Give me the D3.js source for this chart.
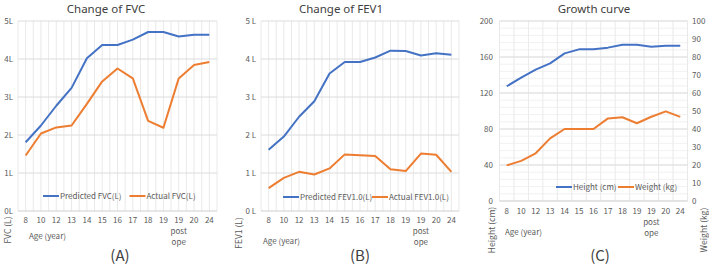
<!DOCTYPE html>
<html><head><meta charset="utf-8">
<script src="https://cdn.jsdelivr.net/npm/d3@7"></script>
<style>
body{margin:0;background:#fff;}
svg{display:block;}
text{font-family:"Noto Sans CJK JP","Noto Sans",sans-serif;}
text.title{font-family:"Noto Sans",sans-serif;}
</style></head>
<body>
<svg id="c" width="709" height="266"></svg>
<script>
const categories = ["8","10","12","13","14","15","16","17","18","19","19 post ope","20","24"];
const predictedFVC = [1.81,2.25,2.77,3.24,4.02,4.37,4.37,4.51,4.71,4.71,4.59,4.64,4.64];
const actualFVC    = [1.46,2.04,2.2,2.25,2.82,3.41,3.75,3.49,2.37,2.19,3.49,3.84,3.92];
const predictedFEV1 = [1.61,1.96,2.48,2.89,3.62,3.92,3.92,4.04,4.22,4.21,4.09,4.15,4.11];
const actualFEV1    = [0.6,0.87,1.03,0.96,1.12,1.49,1.47,1.45,1.1,1.05,1.51,1.48,1.03];
const heightCm = [127.5,137,146,153,164,168.5,168.5,170.4,173.7,173.7,171.5,172.6,172.6];
const weightKg = [19.8,22.3,26.5,34.8,40,40,40,45.9,46.5,43.2,46.8,49.8,46.7];
const litreTicks = [0,1,2,3,4,5];
const heightTicks = [0,40,80,120,160,200];
const weightTicks = [0,10,20,30,40,50,60,70,80,90,100];

const BLUE="#4472C4", ORANGE="#ED7D31", TXT="#595959", GRID="#e3e3e3";
const FONT='"Noto Sans CJK JP","Noto Sans",sans-serif';
const FS=8;
const svg = d3.select("#c");

function panel(o){
  const g = svg.append("g");
  const x = d3.scaleBand().domain(categories).range([o.x0,o.x1]);
  const y = d3.scaleLinear().domain([o.ticks[0],o.ticks[o.ticks.length-1]]).range([o.yb,o.yt]);
  const vstep = o.halfGrid ? x.bandwidth()/2 : x.bandwidth();
  const nv = Math.round((o.x1-o.x0)/vstep);
  for(let i=0;i<=nv;i++){
    const xx = o.x0 + i*vstep;
    g.append("line").attr("x1",xx).attr("x2",xx).attr("y1",o.yt).attr("y2",o.yb)
      .attr("stroke",GRID).attr("stroke-width",0.8);
  }
  if(o.minor){
    o.minor.forEach(v=>g.append("line").attr("x1",o.x0).attr("x2",o.x1).attr("y1",y(v)).attr("y2",y(v))
      .attr("stroke","#eeeeee").attr("stroke-width",0.8));
  }
  o.ticks.forEach(v=>{
    g.append("line").attr("x1",o.x0).attr("x2",o.x1).attr("y1",y(v)).attr("y2",y(v))
      .attr("stroke", v===o.ticks[0] ? "#cfcfcf" : "#dcdcdc").attr("stroke-width",1);
  });
  const ax = d3.axisLeft(y).tickValues(o.ticks).tickSize(0).tickPadding(0).tickFormat(o.fmt);
  const ag = g.append("g").attr("transform",`translate(${o.lx},0)`).call(ax);
  ag.select(".domain").remove();
  ag.attr("font-family",FONT);
  ag.selectAll("text").attr("fill",TXT).attr("font-size",FS);
  if(o.right){
    const yr = d3.scaleLinear().domain([o.right[0],o.right[o.right.length-1]]).range([o.yb,o.yt]);
    const ar = d3.axisRight(yr).tickValues(o.right).tickSize(0).tickPadding(0);
    const rg = g.append("g").attr("transform",`translate(${o.rx},0)`).call(ar);
    rg.select(".domain").remove();
    rg.attr("font-family",FONT);
    rg.selectAll("text").attr("fill",TXT).attr("font-size",FS);
    o.yr = yr;
  }
  const xa = d3.axisBottom(x).tickSize(0).tickPadding(0).tickFormat(d=>d.split(" ")[0]);
  const xg = g.append("g").attr("transform",`translate(0,${o.catY})`).call(xa);
  xg.select(".domain").remove();
  xg.attr("font-family",FONT);
  xg.selectAll("text").attr("fill",TXT).attr("font-size",FS).attr("dy","0.35em");
  const pc = x("19 post ope")+x.bandwidth()/2;
  g.append("text").attr("x",pc).attr("y",o.catY+11).attr("dy","0.35em").attr("text-anchor","middle").attr("fill",TXT).attr("font-size",FS).text("post");
  g.append("text").attr("x",pc).attr("y",o.catY+22.5).attr("dy","0.35em").attr("text-anchor","middle").attr("fill",TXT).attr("font-size",FS).text("ope");
  o.series.forEach(s=>{
    const ys = s.right ? o.yr : y;
    const line = d3.line().x((d,i)=>x(categories[i])+x.bandwidth()/2).y(d=>ys(d));
    g.append("path").datum(s.values).attr("d",line).attr("fill","none")
      .attr("stroke",s.color).attr("stroke-width",2).attr("stroke-linejoin","round");
  });
  o.legend.forEach(l=>{
    g.append("line").attr("x1",l.x).attr("x2",l.x+16).attr("y1",o.legY).attr("y2",o.legY)
      .attr("stroke",l.color).attr("stroke-width",2);
    g.append("text").attr("x",l.x+17).attr("y",o.legY).attr("dy","0.35em").attr("fill",TXT)
      .attr("font-size",FS).text(l.label);
  });
  g.append("text").attr("class","title").attr("x",o.tx).attr("y",12.5).attr("text-anchor","middle")
    .attr("fill","#404040").attr("font-size",11.5).text(o.title);
  g.append("text").attr("x",o.ageX).attr("y",o.ageY).attr("dy","0.35em").attr("fill",TXT)
    .attr("font-size",FS).text("Age (year)");
  o.ytitles.forEach(t=>{
    g.append("text").attr("transform",`translate(${t.x},${t.y}) rotate(-90)`).attr("text-anchor","middle")
      .attr("dy","0.35em").attr("fill",TXT).attr("font-size",8.5).text(t.text);
  });
  g.append("text").attr("x",o.px).attr("y",256).attr("dy","0.35em").attr("text-anchor","middle")
    .attr("fill","#404040").attr("font-size",15).text(o.letter);
}

panel({x0:18,x1:217,yt:21,yb:211,ticks:litreTicks,fmt:d=>d+"L",lx:13,halfGrid:true,catY:220,
  series:[{values:predictedFVC,color:BLUE},{values:actualFVC,color:ORANGE}],
  legY:196,legend:[{x:43,color:BLUE,label:"Predicted FVC(L)"},{x:129.5,color:ORANGE,label:"Actual FVC(L)"}],
  title:"Change of FVC",tx:106,ageX:29,ageY:236,ytitles:[{x:8,y:230,text:"FVC (L)"}],px:120,letter:"(A)"});

panel({x0:261,x1:459,yt:21,yb:211,ticks:litreTicks,fmt:d=>d+" L",lx:256,halfGrid:true,catY:220,
  series:[{values:predictedFEV1,color:BLUE},{values:actualFEV1,color:ORANGE}],
  legY:197,legend:[{x:283,color:BLUE,label:"Predicted FEV1.0(L)"},{x:372,color:ORANGE,label:"Actual FEV1.0(L)"}],
  title:"Change of FEV1",tx:341,ageX:263,ageY:241,ytitles:[{x:239,y:233,text:"FEV1 (L)"}],px:360,letter:"(B)"});

panel({x0:499.5,x1:687.5,yt:21,yb:201,ticks:heightTicks,fmt:d=>d,lx:493,halfGrid:false,catY:211,
  minor:d3.range(0,201,8),right:weightTicks,rx:692,
  series:[{values:heightCm,color:BLUE},{values:weightKg,color:ORANGE,right:true}],
  legY:187,legend:[{x:556,color:BLUE,label:"Height (cm)"},{x:618,color:ORANGE,label:"Weight (kg)"}],
  title:"Growth curve",tx:594,ageX:505,ageY:232,ytitles:[{x:492,y:230,text:"Height (cm)"},{x:704,y:230,text:"Weight (kg)"}],px:600,letter:"(C)"});
</script>
</body></html>
